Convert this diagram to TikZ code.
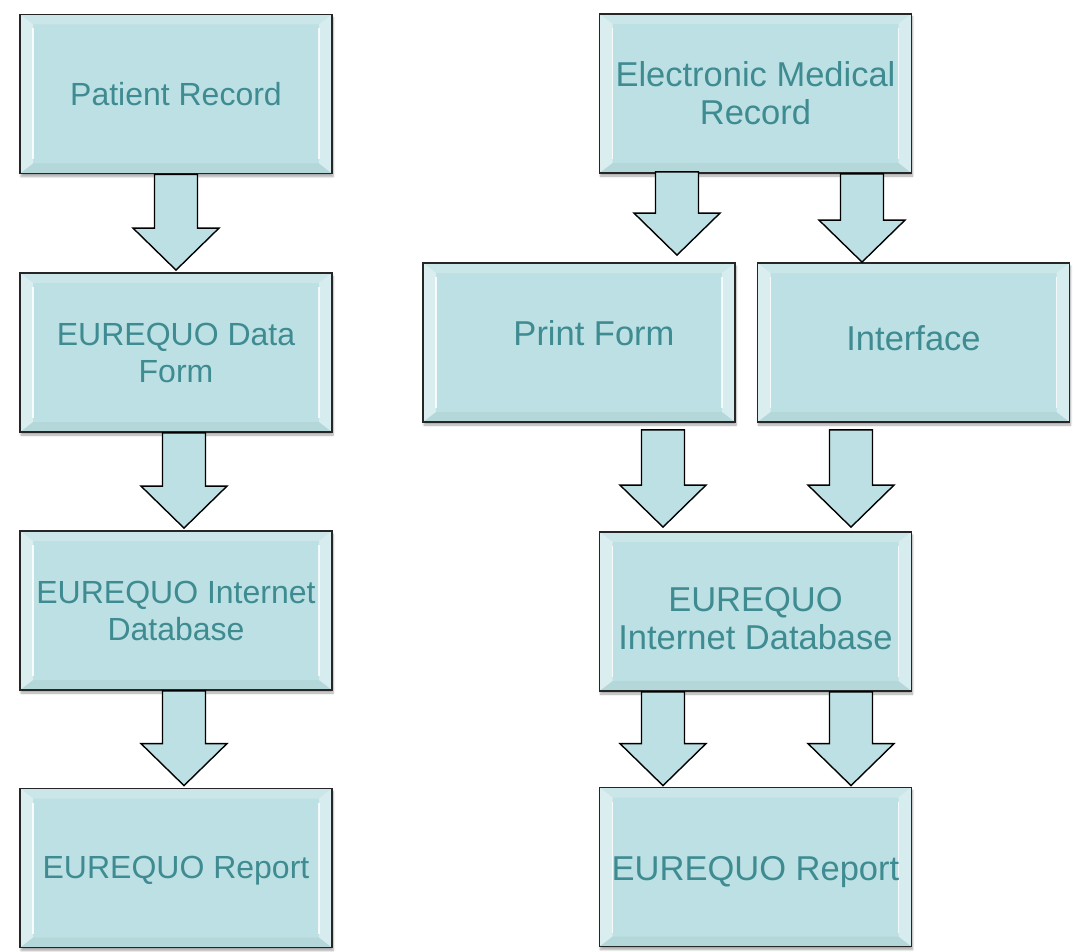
\documentclass[tikz,border=0pt]{standalone}
\usepackage{fontspec}
\setmainfont{Liberation Sans}
\usetikzlibrary{shadows.blur}
\definecolor{boxfill}{RGB}{188,224,227}
\definecolor{boxtext}{RGB}{62,139,145}
\tikzset{
  lbl/.style={text=boxtext, align=center, font=\fontsize{34.5}{38}\selectfont, inner sep=0pt},
  box/.style={draw=black!85, line width=1.8pt, fill=boxfill, text=boxtext,
    align=center, font=\fontsize{32}{37}\selectfont, inner sep=0pt,
    blur shadow={shadow xshift=1pt, shadow yshift=-3pt, shadow blur steps=6, shadow opacity=35},
    path picture={
      \fill[white, opacity=.45] (path picture bounding box.north west) -- (path picture bounding box.south west)
        -- ([xshift=13pt,yshift=10pt]path picture bounding box.south west) -- ([xshift=13pt,yshift=-10pt]path picture bounding box.north west) -- cycle;
      \fill[white, opacity=.4] (path picture bounding box.north east) -- (path picture bounding box.south east)
        -- ([xshift=-13pt,yshift=10pt]path picture bounding box.south east) -- ([xshift=-13pt,yshift=-10pt]path picture bounding box.north east) -- cycle;
      \fill[white, opacity=.22] (path picture bounding box.north west) -- (path picture bounding box.north east)
        -- ([xshift=-13pt,yshift=-10pt]path picture bounding box.north east) -- ([xshift=13pt,yshift=-10pt]path picture bounding box.north west) -- cycle;
      \fill[black, opacity=.04] (path picture bounding box.south west) -- (path picture bounding box.south east)
        -- ([xshift=-13pt,yshift=10pt]path picture bounding box.south east) -- ([xshift=13pt,yshift=10pt]path picture bounding box.south west) -- cycle;
      \draw[white, opacity=.85, line width=1.4pt] ([xshift=13pt,yshift=-14pt]path picture bounding box.north west) -- ([xshift=13pt,yshift=14pt]path picture bounding box.south west);
      \draw[white, opacity=.8, line width=1.4pt] ([xshift=-13pt,yshift=-14pt]path picture bounding box.north east) -- ([xshift=-13pt,yshift=14pt]path picture bounding box.south east);
    }},
  lbox/.style={box, minimum width=312pt, minimum height=159pt},
  rbox/.style={lbox, font=\fontsize{34.5}{38}\selectfont},
  blockarrow/.style={draw=black, line width=1.4pt, fill=boxfill, line join=miter}
}
% #1 source, #2 target, #3 centre x (pt), #4 gap below source, #5 gap above target
\newcommand{\barrow}[5]{%
  \draw[blockarrow] let \p1=(#1.south), \p2=(#2.north) in
    ({#3pt-21.5pt},{\y1-#4pt}) -- ({#3pt-21.5pt},{\y2+#5pt+42pt}) -- ({#3pt-43pt},{\y2+#5pt+42pt})
    -- ({#3pt},{\y2+#5pt}) -- ({#3pt+43pt},{\y2+#5pt+42pt}) -- ({#3pt+21.5pt},{\y2+#5pt+42pt})
    -- ({#3pt+21.5pt},{\y1-#4pt}) -- cycle;}
\begin{document}
\begin{tikzpicture}[x=1pt, y=-1pt]
\useasboundingbox (0,0) rectangle (1077,952);
% left column
\node[lbox] (pr) at (176,94) {Patient Record};
\node[lbox] (df) at (176,352.5) {EUREQUO Data\\Form};
\node[lbox] (idb1) at (176,610.5) {EUREQUO Internet\\Database};
\node[lbox, label={[lbl,font=\fontsize{32}{37}\selectfont,yshift=-3pt]center:EUREQUO Report}] (rep1) at (176,868) {};
% right column
\node[rbox] (emr) at (755.5,93.5) {Electronic Medical\\Record};
\node[rbox, label={[lbl,xshift=15pt,yshift=9pt]center:Print Form}] (pf) at (579,342.5) {};
\node[rbox, label={[lbl,yshift=4pt]center:Interface}] (intf) at (913.5,342.5) {};
\node[rbox, label={[lbl,yshift=-7pt]center:{EUREQUO\\Internet Database}}] (idb2) at (755.5,611.5) {};
\node[rbox, label={[lbl,yshift=-5pt]center:EUREQUO Report}] (rep2) at (755.5,867) {};
% arrows
\barrow{pr}{df}{176}{0}{2}
\barrow{df}{idb1}{184}{0}{2}
\barrow{idb1}{rep1}{184}{0}{2}
\barrow{emr}{pf}{677}{-2}{7}
\barrow{emr}{intf}{862}{0}{0}
\barrow{pf}{idb2}{663}{7}{4}
\barrow{intf}{idb2}{851}{7}{4}
\barrow{idb2}{rep2}{663}{0}{1}
\barrow{idb2}{rep2}{851}{0}{1}
\end{tikzpicture}
\end{document}
